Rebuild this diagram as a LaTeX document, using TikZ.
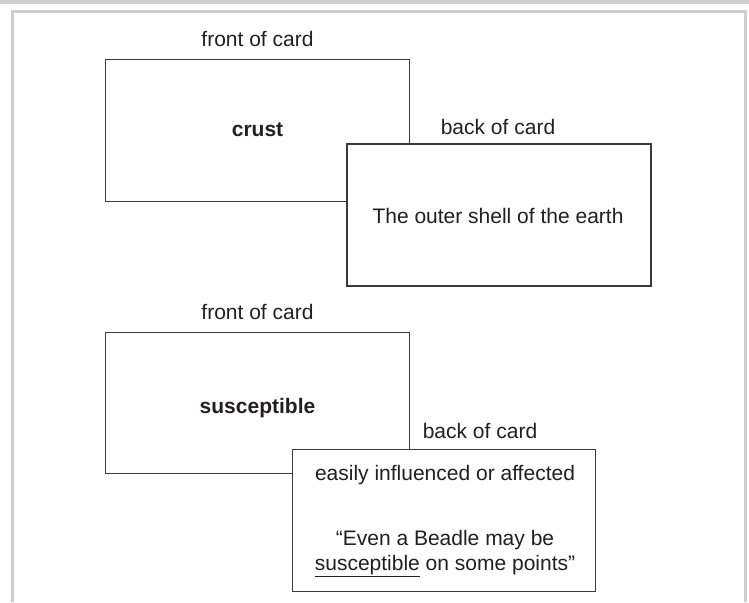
\documentclass[tikz,border=0pt]{standalone}
\usepackage{fontspec}
\setmainfont{Liberation Sans}
\definecolor{framegray}{HTML}{CFCFD0}
\definecolor{cardline}{HTML}{3A3A3A}
\definecolor{inktext}{HTML}{231F20}
\tikzset{
  card/.style={draw=cardline, line width=1.3pt, fill=white, rectangle, inner sep=0pt},
  lbl/.style={text=inktext, font=\fontsize{21}{25}\selectfont, inner sep=0pt},
  term/.style={lbl, font=\fontsize{21}{25}\selectfont\bfseries},
  framebar/.style={draw=framegray, line width=3pt}
}
\begin{document}
\begin{tikzpicture}[x=1pt,y=-1pt]
  \useasboundingbox (0,0) rectangle (749,602);
  % panel frame
  \fill[framegray] (0,0) rectangle (749,4);
  \coordinate (fl) at (12.5,602);
  \coordinate (ftl) at (12.5,11.5);
  \coordinate (ftr) at (745.5,11.5);
  \coordinate (fr) at (745.5,602);
  \draw[framebar] (fl) -- (ftl) -- (ftr) -- (fr);

  % first pair of cards
  \node[lbl] (front1lbl) at (257.5,39) {front of card};
  \node[card, minimum width=304pt, minimum height=142pt] (front1) at (257.5,130.5) {};
  \node[term] (crust) at (257.5,130) {crust};
  \node[card, minimum width=304pt, minimum height=142pt] (back1) at (499,215) {};
  \node[lbl] (back1lbl) at (498,127) {back of card};
  \node[lbl] (def1) at (498,216) {The outer shell of the earth};

  % second pair of cards
  \node[lbl] (front2lbl) at (257.5,312) {front of card};
  \node[card, minimum width=304pt, minimum height=141pt] (front2) at (257.5,403) {};
  \node[term] (suscept) at (257.5,408) {susceptible};
  \node[card, minimum width=303pt, minimum height=142pt] (back2) at (444.2,520.5) {};
  \node[lbl] (back2lbl) at (480,431) {back of card};
  \node[lbl] (def2) at (445,475) {easily influenced or affected};
  \node[lbl, align=center, font=\fontsize{21}{25}\selectfont] (quote2) at (445,554)
    {“Even a Beadle may be\\\underline{susceptible} on some points”};
\end{tikzpicture}
\end{document}
